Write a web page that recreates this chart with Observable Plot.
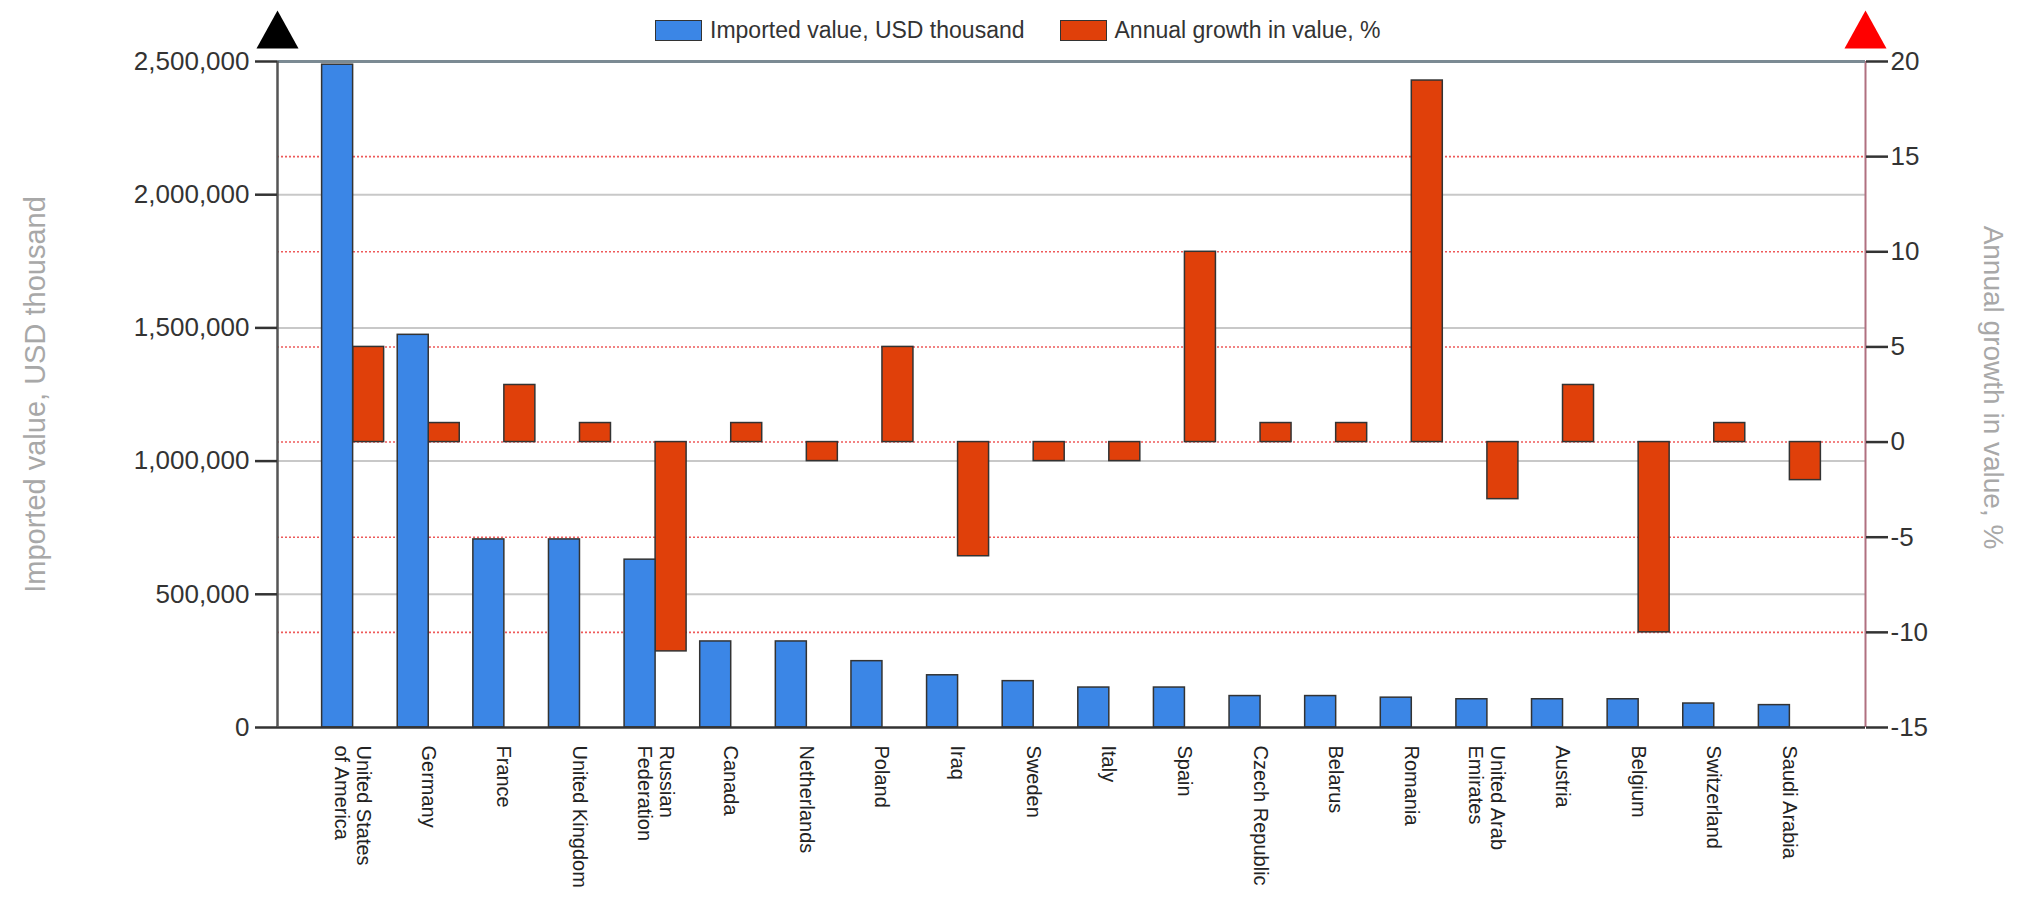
<!DOCTYPE html>
<html>
<head>
<meta charset="utf-8">
<script src="https://cdn.jsdelivr.net/npm/d3@7"></script>
<script src="https://cdn.jsdelivr.net/npm/@observablehq/plot@0.6"></script>
<style>
  html, body { margin: 0; padding: 0; background: #fff; }
  #wrap { position: relative; width: 2018px; height: 901px; overflow: hidden; }
  #wrap svg { position: absolute; top: 0; left: 0; }
  #legend { position: absolute; top: 17px; left: 655px; display: flex; align-items: center;
            font: 23px "Liberation Sans", Arial, sans-serif; color: #333; z-index: 10; }
  #legend .sw { display: inline-block; width: 45px; height: 19px; border: 1px solid #333; }
</style>
</head>
<body>
<div id="wrap"><div id="legend"></div></div>
<script>
// ---- data ----
const countries = ["United States\nof America", "Germany", "France", "United Kingdom", "Russian\nFederation",
  "Canada", "Netherlands", "Poland", "Iraq", "Sweden", "Italy", "Spain", "Czech Republic", "Belarus",
  "Romania", "United Arab\nEmirates", "Austria", "Belgium", "Switzerland", "Saudi Arabia"];
const importedValue = [2488000, 1474000, 706000, 706000, 630000, 323000, 323000, 249000, 196000, 174000,
  150000, 150000, 118000, 118000, 112000, 106000, 106000, 106000, 90000, 84000];
const annualGrowth = [5, 1, 3, 1, -11, 1, -1, 5, -6, -1, -1, 10, 1, 1, 19, -3, 3, -10, 1, -2];
const leftTicks = [0, 500000, 1000000, 1500000, 2000000, 2500000];
const rightTicks = [-15, -10, -5, 0, 5, 10, 15, 20];
const seriesNames = ["Imported value, USD thousand", "Annual growth in value, %"];
const seriesColors = ["#3b86e6", "#e0400a"];

const rows = countries.map((c, i) => ({idx: i + 1, country: c, imports: importedValue[i], growth: annualGrowth[i]}));

// ---- layout ----
const W = 2018, H = 901;
const margins = {marginTop: 61, marginBottom: 174, marginLeft: 277, marginRight: 153};
const half = 0.41;
const font = "'Liberation Sans', Arial, sans-serif";
const xOpt = {domain: [0, countries.length + 1], axis: null};
const yLeft = {domain: [leftTicks[0], leftTicks[leftTicks.length - 1]], axis: null};
const yRight = {domain: [rightTicks[0], rightTicks[rightTicks.length - 1]], axis: null};
const baseStyle = {background: "transparent", fontFamily: font, fontSize: "26px", color: "#333", overflow: "visible"};

const triangle = (w, h) => ({draw(ctx) { ctx.moveTo(0, -h); ctx.lineTo(w, 0); ctx.lineTo(-w, 0); ctx.closePath(); }});

// Layer 1: grey grid (left scale)
const layer1 = Plot.plot({
  width: W, height: H, ...margins, x: xOpt, y: yLeft, style: baseStyle,
  marks: [
    Plot.ruleY(leftTicks.slice(1, -1), {stroke: "#c8c8c8", strokeWidth: 2})
  ]
});

// Layer 2: red dotted grid, red bars, right axis (right scale)
const layer2 = Plot.plot({
  width: W, height: H, ...margins, x: xOpt, y: yRight, style: baseStyle,
  marks: [
    Plot.ruleY(rightTicks.slice(1, -1), {stroke: "#ee5a5a", strokeWidth: 1.6, strokeDasharray: "2,2"}),
    Plot.rectY(rows, {x1: d => d.idx, x2: d => d.idx + half, y1: 0, y2: "growth",
      fill: seriesColors[1], stroke: "#333", strokeWidth: 1.5}),
    Plot.ruleX([countries.length + 1], {stroke: "#b07080", strokeWidth: 2}),
    Plot.axisY(rightTicks, {anchor: "right", tickSize: 22, tickPadding: 3, strokeWidth: 2.5,
      tickFormat: d => String(d), fontSize: 26, label: null, fill: "#333"}),
    Plot.dot([{x: countries.length + 1, y: rightTicks[rightTicks.length - 1]}],
      {x: "x", y: "y", symbol: triangle(21, 38), fill: "#ff0000", stroke: "none", dy: -13}),
    Plot.text([seriesNames[1]], {x: null, y: null, text: d => d, frameAnchor: "right", dx: 127, dy: -7,
      rotate: 90, textAnchor: "middle", lineAnchor: "middle", fontSize: 28, fill: "#a8a8a8"})
  ]
});

// Layer 3: blue bars, frame lines, left axis, x labels (left scale)
const layer3 = Plot.plot({
  width: W, height: H, ...margins, x: xOpt, y: yLeft, style: baseStyle,
  marks: [
    Plot.rectY(rows, {x1: d => d.idx - half, x2: d => d.idx, y1: 0, y2: "imports",
      fill: seriesColors[0], stroke: "#333", strokeWidth: 1.5}),
    Plot.ruleY([leftTicks[leftTicks.length - 1]], {stroke: "#7b8a93", strokeWidth: 3}),
    Plot.ruleY([0], {stroke: "#333", strokeWidth: 2.5}),
    Plot.ruleX([0], {stroke: "#555", strokeWidth: 2.5}),
    Plot.axisY(leftTicks, {anchor: "left", tickSize: 22, tickPadding: 6, strokeWidth: 2.5,
      tickFormat: d3.format(","), fontSize: 26, label: null, fill: "#333"}),
    Plot.dot([{x: 0, y: leftTicks[leftTicks.length - 1]}],
      {x: "x", y: "y", symbol: triangle(21, 38), fill: "#000", stroke: "none", dy: -13}),
    Plot.text(rows, {x: "idx", text: "country", frameAnchor: "bottom", dy: 18, rotate: 90,
      textAnchor: "start", lineAnchor: "middle", fontSize: 20, fill: "#222", lineHeight: 1.1}),
    Plot.text([seriesNames[0]], {x: null, y: null, text: d => d, frameAnchor: "left", dx: -242,
      rotate: -90, textAnchor: "middle", lineAnchor: "middle", fontSize: 29, fill: "#a8a8a8"})
  ]
});

const wrap = document.getElementById("wrap");
wrap.appendChild(layer1);
wrap.appendChild(layer2);
wrap.appendChild(layer3);

// legend
const legend = document.getElementById("legend");
seriesNames.forEach((name, i) => {
  const sw = document.createElement("span");
  sw.className = "sw";
  sw.style.background = seriesColors[i];
  if (i > 0) sw.style.marginLeft = "35px";
  const tx = document.createElement("span");
  tx.textContent = name;
  tx.style.marginLeft = "8px";
  legend.appendChild(sw);
  legend.appendChild(tx);
});
</script>
</body>
</html>
